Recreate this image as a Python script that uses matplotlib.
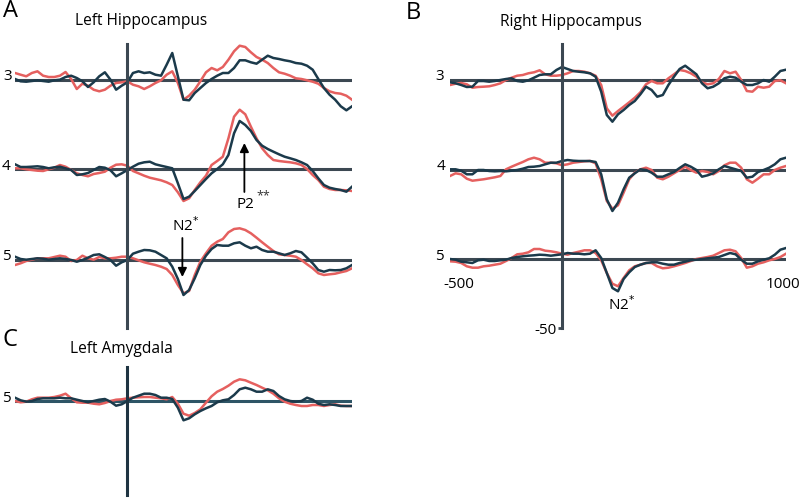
import numpy as np
import matplotlib.pyplot as plt

plt.rcParams['font.family'] = ['Open Sans', 'DejaVu Sans']

# time grid (ms), traces every 25 ms
t = np.arange(-500, 1001, 25)

# amplitudes relative to each channel's baseline (up = positive)
# Left hippocampus, contact 3
lh3_blue = [1.0, -1.3, -1.7, -1.0, -0.3, -1.0, -1.7, -0.3, 0.3, 3.0,
            4.3, 2.0, -1.3, -7.0, -2.3, 3.7, 7.7, 0.3, -9.7, -5.7,
            -2.3, 7.0, 8.7, 7.0, 7.7, 5.3, 4.3, 15.3, 27.0, 3.7,
            -19.7, -20.3, -13.0, -8.0, -3.0, 1.0, 4.3, 7.0, 7.0, 12.0,
            19.7, 19.7, 17.7, 16.3, 20.3, 24.3, 22.0, 21.0, 19.7, 18.7,
            17.0, 16.3, 14.3, 10.3, 1.0, -8.0, -14.7, -19.7, -26.3, -30.3,
            -26.3]
lh3_red = [7.0, 5.3, 3.7, 7.0, 8.7, 4.3, 3.0, 3.0, 4.3, 8.0,
           1.0, -9.0, -3.7, -5.7, -9.7, -11.3, -9.7, -5.7, -3.0, -2.3,
           -1.3, -4.7, -6.3, -9.0, -6.3, -3.0, -0.3, 5.3, 8.7, -3.0,
           -19.7, -15.7, -9.7, -1.3, 7.7, 12.0, 9.7, 13.0, 20.3, 28.7,
           34.3, 33.0, 27.7, 23.0, 20.3, 17.0, 12.0, 7.7, 6.3, 4.3,
           1.7, 1.0, -0.3, -1.7, -3.7, -8.0, -11.3, -13.0, -13.7, -15.7,
           -19.7]
# contact 4
lh4_blue = [4.7, 2.0, 2.0, 2.3, 2.7, 2.0, 0.7, 1.7, 2.3, 0.7,
            -1.0, -6.0, -5.3, -4.0, -1.0, 2.0, 1.3, -1.3, -7.3, -4.3,
            -1.0, 2.3, 5.3, 6.7, 7.3, 4.7, 3.3, 2.0, 0.7, -14.3,
            -30.0, -27.7, -22.0, -16.0, -10.0, -4.3, 0.0, 4.7, 14.0, 35.7,
            48.0, 44.0, 38.0, 29.0, 23.3, 20.0, 17.3, 14.7, 12.3, 10.7,
            9.0, 6.7, 4.0, -2.0, -9.3, -16.0, -18.7, -20.0, -21.0, -22.7,
            -17.7]
lh4_red = [0.7, 0.7, -0.3, -1.0, -1.7, -2.0, -0.3, 1.3, 4.0, 2.3,
           -1.0, -4.3, -6.0, -7.3, -5.0, -4.0, -2.7, 1.3, 4.3, 4.7,
           3.3, -2.0, -4.3, -6.7, -8.7, -10.0, -11.3, -13.3, -16.0, -23.3,
           -32.0, -29.3, -21.0, -13.3, -6.7, 4.0, 8.0, 12.3, 30.7, 52.3,
           59.3, 54.7, 42.3, 30.7, 20.7, 14.0, 9.0, 8.0, 7.3, 6.7,
           5.7, 4.0, 0.0, -6.0, -11.0, -17.7, -20.0, -21.0, -21.0, -21.3,
           -22.0]
# contact 5
lh5_blue = [3.3, 1.0, 0.3, 1.0, 1.7, 1.3, 0.3, 1.0, 1.7, 1.0,
            0.0, -1.7, 0.0, 2.3, 5.0, 5.7, 3.0, 0.0, -5.7, -2.3,
            0.0, 6.3, 8.3, 10.0, 9.7, 8.3, 5.0, 1.7, -6.7, -19.0,
            -35.0, -30.0, -18.3, -5.0, 4.3, 11.0, 15.0, 14.3, 14.3, 16.7,
            17.7, 14.3, 11.7, 13.3, 10.0, 8.3, 8.3, 6.7, 5.0, 6.7,
            9.0, 7.7, 2.3, -3.3, -10.0, -11.7, -10.0, -10.3, -10.0, -8.3,
            -5.0]
lh5_red = [-5.0, -3.3, -1.0, 0.3, 1.7, 1.7, 1.7, 3.0, 4.3, 3.3,
           -1.0, 0.0, 4.3, 1.7, 0.3, 3.0, 1.7, 1.7, 2.3, 3.3,
           3.3, 1.7, -0.3, -2.3, -3.7, -5.0, -6.7, -9.0, -15.0, -25.0,
           -33.3, -31.0, -15.0, -1.7, 6.7, 14.3, 18.3, 21.0, 27.7, 31.0,
           31.7, 30.0, 26.7, 22.3, 17.7, 13.3, 9.0, 5.7, 5.0, 4.3,
           3.3, 0.0, -4.3, -8.3, -13.3, -15.0, -14.3, -13.7, -12.3, -11.0,
           -8.3]

# Right hippocampus
rh3_blue = [-2.3, -3.3, -5.0, -7.0, -6.7, -1.0, -1.0, -1.7, -1.0, 0.0,
            1.0, 1.7, -1.0, -1.7, -0.3, 2.3, 5.0, 5.7, 5.7, 10.0,
            13.0, 11.0, 9.0, 8.3, 7.7, 6.7, 3.3, -11.7, -35.0, -41.7,
            -34.3, -30.0, -25.0, -21.0, -14.3, -6.7, -10.0, -16.7, -15.0, -5.0,
            3.3, 11.0, 14.3, 10.0, 5.7, -3.3, -8.3, -6.7, -3.3, 1.7,
            3.3, 2.3, -1.7, -5.0, -5.0, -3.3, 0.0, -1.7, 3.3, 9.0,
            10.3]
rh3_red = [-5.0, -3.7, -3.0, -4.3, -7.7, -7.0, -6.7, -6.3, -5.0, -3.3,
           0.0, 2.3, 4.3, 5.0, 6.7, 7.7, 9.7, 5.7, 4.3, 4.3,
           5.0, 6.7, 9.0, 9.0, 8.3, 6.7, 4.3, -5.0, -28.3, -35.7,
           -31.0, -26.7, -22.3, -17.7, -12.3, -4.3, -1.0, -3.3, -3.3, 1.7,
           5.7, 10.0, 9.0, 6.7, 3.3, -2.3, -4.3, -3.3, 1.0, 9.0,
           6.7, 8.3, 0.0, -11.0, -11.7, -6.7, -7.7, -6.7, -1.0, -0.3,
           -3.3]
rh4_blue = [0.7, 0.7, -0.7, -4.3, -4.3, 0.0, 0.0, -1.0, -1.3, -1.0,
            -1.3, -0.7, 0.0, 1.3, 3.0, 3.3, 4.0, 5.7, 7.3, 7.3,
            9.0, 10.0, 9.3, 9.0, 9.0, 9.0, 8.0, -4.3, -29.3, -41.0,
            -32.7, -19.3, -7.7, -3.3, 0.7, 0.0, -2.7, -6.7, -6.7, -4.3,
            -2.0, 2.0, 5.7, 3.3, 0.0, -6.7, -5.3, -3.3, 0.7, 4.0,
            2.3, 0.7, -1.0, -7.7, -6.7, -2.0, 0.0, 2.3, 5.7, 10.7,
            12.3]
rh4_red = [-6.0, -3.3, -4.3, -8.7, -10.7, -10.0, -9.3, -8.3, -7.3, -6.0,
           0.7, 3.3, 5.7, 8.0, 10.7, 12.3, 10.7, 7.3, 7.3, 6.7,
           4.7, 5.7, 7.3, 8.0, 8.7, 9.0, 6.7, -9.3, -31.0, -38.7,
           -35.3, -22.7, -9.3, -2.7, 0.7, 2.3, 0.0, -7.7, -9.3, -6.7,
           -3.3, 0.0, 3.3, 0.0, -2.7, -1.0, -2.0, -4.3, -1.0, 4.7,
           7.3, 7.3, 2.3, -9.3, -12.7, -8.7, -4.3, -4.3, 0.0, 2.3,
           4.0]
rh5_blue = [0.0, -0.7, -2.7, -3.3, -4.0, -1.3, -0.7, -2.0, -2.0, -1.3,
            -0.7, 1.0, 2.0, 2.7, 3.3, 3.7, 4.3, 4.0, 3.3, 4.0,
            4.7, 6.0, 5.3, 5.3, 4.7, 5.3, 8.7, 1.0, -14.0, -29.0,
            -32.3, -20.0, -13.3, -8.0, -5.7, -4.0, -3.3, -3.3, -4.7, -5.7,
            -5.7, -4.0, -2.7, -1.3, -0.7, 0.0, 0.7, 1.3, 2.0, 4.0,
            6.0, 4.7, -0.7, -4.7, -4.7, -2.3, -0.7, 0.7, 4.3, 9.3,
            11.0]
rh5_red = [-2.3, -2.7, -4.0, -7.3, -8.7, -8.7, -7.3, -6.7, -5.7, -4.7,
           -2.0, 1.0, 4.7, 5.3, 6.7, 10.0, 10.0, 8.3, 7.7, 6.7,
           5.3, 4.3, 6.0, 7.3, 8.7, 8.7, 6.0, -1.3, -14.0, -24.7,
           -27.3, -19.0, -11.3, -7.3, -5.7, -4.0, -4.0, -7.3, -9.3, -8.7,
           -7.3, -5.7, -4.0, -2.0, 0.0, 1.0, 2.0, 3.3, 6.0, 8.7,
           9.3, 7.7, 1.0, -8.7, -7.3, -4.7, -3.3, -1.3, 0.0, 2.0,
           5.3]

# Left amygdala, contact 5
amy_blue = [3.3, 0.7, -0.7, 0.0, 2.0, 2.7, 2.7, 2.7, 3.3, 2.7,
            2.7, 1.3, 0.0, -1.3, 0.0, 1.3, 2.0, -0.7, -4.7, -3.3,
            0.0, 3.3, 5.3, 7.3, 7.3, 6.0, 3.3, 3.3, 2.0, -6.7,
            -19.3, -17.3, -13.3, -10.0, -7.3, -5.0, -1.3, 0.7, 1.7, 6.0,
            11.7, 13.3, 11.7, 9.3, 9.3, 11.7, 10.0, 5.0, 1.7, 0.0,
            -0.7, 0.0, 3.3, 1.3, -2.7, -4.0, -3.3, -4.0, -5.0, -5.0,
            -5.0]
amy_red = [0.0, -1.3, -0.7, 1.7, 3.3, 3.3, 3.3, 4.0, 5.3, 7.3,
           2.7, -1.3, -1.7, -1.7, -2.7, -3.3, -2.0, 0.0, 1.3, 1.7,
           2.7, 3.3, 3.7, 4.0, 4.0, 3.3, 2.7, 1.7, 4.0, -2.7,
           -12.7, -14.7, -12.0, -8.3, -1.7, 4.7, 9.3, 12.0, 15.3, 19.3,
           21.7, 20.7, 18.3, 16.0, 13.3, 10.7, 7.3, 2.7, -0.7, -2.7,
           -4.0, -5.0, -5.0, -4.0, -4.0, -5.0, -4.0, -3.3, -4.7, -5.0,
           -5.0]

BLUE = '#1b3a4b'
RED = '#e5605f'
AXIS = '#3c4852'

W, H = 800, 501
fig = plt.figure(figsize=(W / 100, H / 100), dpi=100)


def panel(x0, x1, y_top, y_bot, ylim, bounds, spine_color=AXIS):
    ax = fig.add_axes([x0 / W, 1 - y_bot / H, (x1 - x0) / W, (y_bot - y_top) / H])
    ax.set_xlim(-500, 1000)
    ax.set_ylim(*ylim)
    for s in ['top', 'right', 'bottom']:
        ax.spines[s].set_visible(False)
    ax.spines['left'].set_position(('data', 0))
    ax.spines['left'].set_bounds(*bounds)
    ax.spines['left'].set_linewidth(2.2)
    ax.spines['left'].set_color(spine_color)
    ax.set_xticks([])
    ax.set_yticks([])
    ax.patch.set_alpha(0)
    return ax


def channel(ax, off, blue, red, label, label_t, base_color=AXIS):
    ax.axhline(off, color=base_color, lw=2.2, zorder=1)
    ax.plot(t, np.array(red) + off, color=RED, lw=1.8, zorder=2)
    ax.plot(t, np.array(blue) + off, color=BLUE, lw=1.8, zorder=2.1)
    ax.text(label_t, off + 3, label, ha='right', va='center', fontsize=11)


# A: left hippocampus
axA = panel(15, 352, 40, 332, (-252, 40), (-248, 36))
channel(axA, 0, lh3_blue, lh3_red, '3', -515)
channel(axA, -89, lh4_blue, lh4_red, '4', -520)
channel(axA, -180, lh5_blue, lh5_red, '5', -520)

arrow = dict(arrowstyle='-|>', color='black', lw=1.3, mutation_scale=13,
             shrinkA=0, shrinkB=0)
axA.annotate('', xy=(245, -197), xytext=(245, -158), arrowprops=arrow)
axA.text(262, -146, 'N2$^{*}$', ha='center', va='center', fontsize=11)
axA.annotate('', xy=(521, -63), xytext=(521, -112), arrowprops=arrow)
axA.text(525, -125, 'P2', ha='center', va='center', fontsize=11)
axA.text(605, -116, '**', ha='center', va='center', fontsize=9, color='#333333')

# B: right hippocampus
axB = panel(450, 786, 40, 332, (-252, 40), (-248, 36))
channel(axB, 0, rh3_blue, rh3_red, '3', -528)
channel(axB, -90, rh4_blue, rh4_red, '4', -522)
channel(axB, -179, rh5_blue, rh5_red, '5', -528)
axB.set_yticks([-248])
axB.set_yticklabels(['-50'])
axB.tick_params(axis='y', length=3, width=2, color=AXIS, pad=1, labelsize=11)
axB.text(-460, -205, '-500', ha='center', va='center', fontsize=11)
axB.text(985, -205, '1000', ha='center', va='center', fontsize=11)
axB.text(268, -225, 'N2$^{*}$', ha='center', va='center', fontsize=11)

# C: left amygdala
axC = panel(15, 352, 360, 500, (-99, 41), (-94, 34), spine_color='#1f3442')
channel(axC, 0, amy_blue, amy_red, '5', -520, base_color='#2e5566')

fig.text(3 / W, 1 - 11 / H, 'A', ha='left', va='center', fontsize=17)
fig.text(75 / W, 1 - 21 / H, 'Left Hippocampus', ha='left', va='center', fontsize=11.2)
fig.text(406 / W, 1 - 13 / H, 'B', ha='left', va='center', fontsize=17)
fig.text(500 / W, 1 - 22 / H, 'Right Hippocampus', ha='left', va='center', fontsize=11.2)
fig.text(3 / W, 1 - 340 / H, 'C', ha='left', va='center', fontsize=17)
fig.text(70 / W, 1 - 349 / H, 'Left Amygdala', ha='left', va='center', fontsize=11.2)

fig.savefig('out.png', dpi=100)
